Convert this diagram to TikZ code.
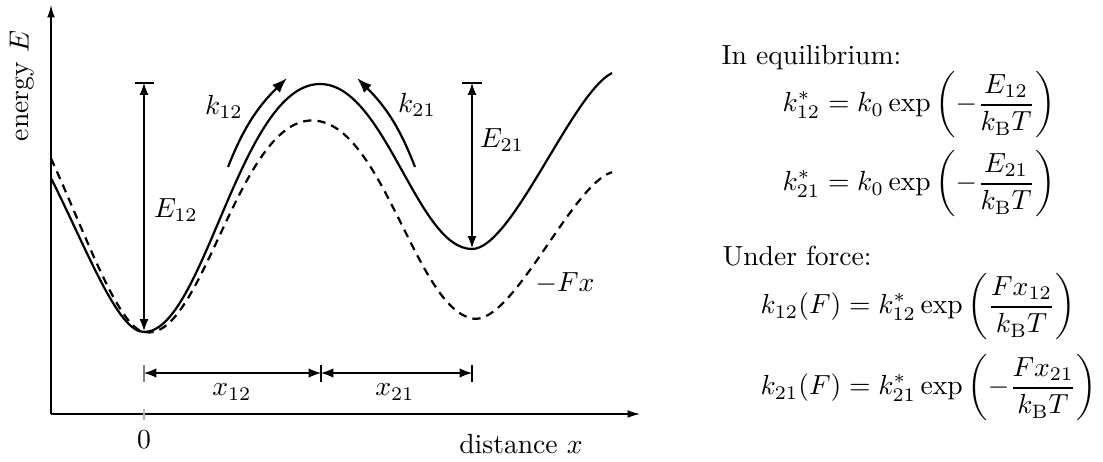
\documentclass[tikz,border=0pt]{standalone}
\usepackage{amsmath}
\usetikzlibrary{arrows.meta}
\begin{document}
\begin{tikzpicture}[x=0.362pt,y=-0.362pt,
  axis/.style={line width=0.45pt,-{Latex[length=4.5pt,width=2.8pt]}},
  dimline/.style={line width=0.4pt,{Latex[length=4.5pt,width=3.4pt]}-{Latex[length=4.5pt,width=3.4pt]}},
  energyarrow/.style={line width=0.4pt,{Latex[length=4.3pt,width=3.2pt]}-{Latex[length=4.3pt,width=3.2pt]}},
  tickline/.style={line width=0.4pt},
  ratearrow/.style={thick,-{Latex[length=5.5pt,width=4pt]}},
  solidcurve/.style={thick},
  dashedcurve/.style={thick,dash pattern=on 3pt off 2.2pt},
  lbl/.style={inner sep=0pt}]
\useasboundingbox (0,0) rectangle (1103,461);

% axes
\coordinate (origin) at (51,414);
\coordinate (ytop) at (51,5);
\coordinate (xend) at (640,414);
\draw[axis] (origin) -- (ytop);
\draw[axis] (origin) -- (xend);
\coordinate (t0a) at (144,409);
\coordinate (t0b) at (144,420);
\draw[tickline,gray!60] (t0a) -- (t0b);
\node[lbl] (zero) at (144,440) {$0$};
\node[lbl] (xlabel) at (521,444) {distance $x$};
\node[lbl,rotate=90] (ylabel) at (22,86) {energy $E$};

% potentials
\draw[solidcurve] (51,178) .. controls (88,252) and (118,332) .. (144,332)
  .. controls (204,332) and (240,84) .. (320,84)
  .. controls (385,84) and (417,249) .. (472,249)
  .. controls (512,249) and (572,93) .. (612,73);
\draw[dashedcurve] (51,158.3) .. controls (88,240.1) and (118,326.5) .. (144,332)
  .. controls (204,344.7) and (240,104.4) .. (320,121.3)
  .. controls (385,135.1) and (417,306.9) .. (472,318.5)
  .. controls (512,327) and (572,183.7) .. (612,172.2);

% energy barriers
\coordinate (e12top) at (144,83);
\coordinate (e12bot) at (144,331);
\coordinate (e12barl) at (135,83);
\coordinate (e12barr) at (154,83);
\draw[energyarrow] (e12top) -- (e12bot);
\draw[tickline] (e12barl) -- (e12barr);
\node[lbl] (E12) at (176,210) {$E_{12}$};

\coordinate (e21top) at (472,83);
\coordinate (e21bot) at (472,248);
\coordinate (e21barl) at (462,83);
\coordinate (e21barr) at (482,83);
\draw[energyarrow] (e21top) -- (e21bot);
\draw[tickline] (e21barl) -- (e21barr);
\node[lbl] (E21) at (502,140) {$E_{21}$};

% rate arrows
\coordinate (k12s) at (228,167);
\coordinate (k12e) at (287,78);
\draw[ratearrow] (k12s) to[bend left=12] (k12e);
\node[lbl] (k12) at (224,107) {$k_{12}$};
\coordinate (k21s) at (415,167);
\coordinate (k21e) at (357,78);
\draw[ratearrow] (k21s) to[bend right=12] (k21e);
\node[lbl] (k21) at (417,105) {$k_{21}$};

\node[lbl] (Fx) at (565,283) {$-Fx$};

% distances
\coordinate (d0) at (144,373);
\coordinate (d1) at (321,373);
\coordinate (d2) at (472,373);
\draw[tickline,gray] (144,365) -- (144,382);
\draw[tickline] (321,365) -- (321,382);
\draw[tickline] (472,365) -- (472,382);
\draw[dimline] (d0) -- (d1);
\draw[dimline] (d1) -- (d2);
\node[lbl] (x12) at (232,392) {$x_{12}$};
\node[lbl] (x21) at (395,392) {$x_{21}$};

% equations
\node[lbl,anchor=base west] (eqhead) at (721,64) {In equilibrium:};
\node[lbl,anchor=west] (eq1) at (782,105)
  {$\displaystyle k^*_{12} = k_0 \exp\left(-\frac{E_{12}}{k_\mathrm{B}T}\right)$};
\node[lbl,anchor=west] (eq2) at (782,184)
  {$\displaystyle k^*_{21} = k_0 \exp\left(-\frac{E_{21}}{k_\mathrm{B}T}\right)$};
\node[lbl,anchor=base west] (forcehead) at (722,265) {Under force:};
\node[lbl,anchor=west] (eq3) at (760,307)
  {$\displaystyle k_{12}(F) = k^*_{12} \exp\left(\frac{F x_{12}}{k_\mathrm{B}T}\right)$};
\node[lbl,anchor=west] (eq4) at (760,388)
  {$\displaystyle k_{21}(F) = k^*_{21} \exp\left(-\frac{F x_{21}}{k_\mathrm{B}T}\right)$};
\end{tikzpicture}
\end{document}
